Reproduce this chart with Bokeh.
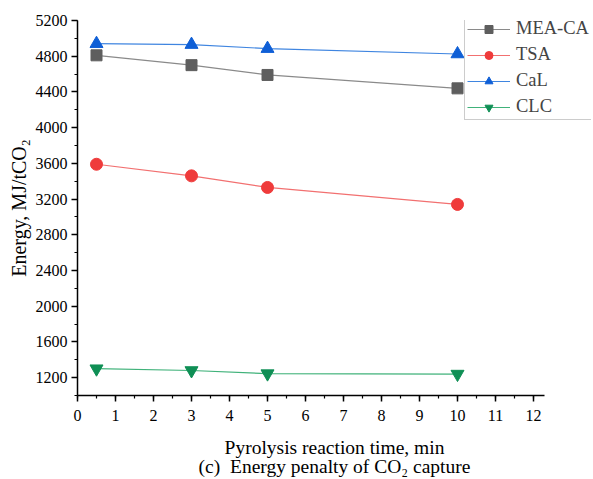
from bokeh.plotting import figure
from bokeh.models import Range1d, SingleIntervalTicker, Legend, LegendItem
from bokeh.embed import file_html
from bokeh.resources import INLINE

time_min = [0.5, 3, 5, 10]
mea_ca = [4810, 4700, 4590, 4440]
tsa = [3590, 3460, 3330, 3140]
cal = [4940, 4930, 4885, 4825]
clc = [1300, 1280, 1245, 1240]

x_label = "Pyrolysis reaction time, min"
caption = "(c)\u00a0 Energy penalty of CO\u2082 capture"
y_label = "Energy, MJ/tCO\u2082"

FONT = "Liberation Serif"
LEFT, TOP = 77, 20
FRAME_W, FRAME_H = 514, 375
PX_PER_UNIT = 38.0

p = figure(frame_width=FRAME_W, frame_height=FRAME_H, output_backend="svg", toolbar_location=None,
           x_range=Range1d(0, FRAME_W / PX_PER_UNIT), y_range=Range1d(1000, 5200),
           min_border_left=LEFT, min_border_right=0, min_border_top=TOP, min_border_bottom=0)
p.outline_line_color = None
p.grid.visible = False
p.background_fill_color = "white"
p.border_fill_color = "white"

series = [
    ("MEA-CA", mea_ca, "square", "#5e5e5e", "#8a8a8a", 11),
    ("TSA", tsa, "circle", "#ef3b3b", "#f27070", 12),
    ("CaL", cal, "triangle", "#0f5fd6", "#3f85e0", 13),
    ("CLC", clc, "inverted_triangle", "#0f8f55", "#40b27a", 13),
]
items = []
for name, ys, mk, mc, lc, sz in series:
    r1 = p.line(time_min, ys, line_color=lc, line_width=1.2)
    r2 = p.scatter(time_min, ys, marker=mk, size=sz, fill_color=mc, line_color=mc)
    items.append(LegendItem(label=name, renderers=[r1, r2]))

legend = Legend(items=items, location=(387, FRAME_H - 100), label_text_font=FONT,
                label_text_font_size="18.5px", border_line_color="#9a9a9a",
                border_line_width=1.2, glyph_width=43, glyph_height=20,
                label_height=20, spacing=5, padding=2, margin=0,
                label_standoff=6, background_fill_alpha=1)
p.add_layout(legend, "center")

for ax in (p.xaxis, p.yaxis):
    ax.axis_line_width = 1.5
    ax.axis_line_color = "black"
    ax.major_tick_line_width = 1.5
    ax.minor_tick_line_width = 1.2
    ax.major_tick_out = 6
    ax.major_tick_in = 0
    ax.minor_tick_out = 3
    ax.minor_tick_in = 0
    ax.major_label_text_font = FONT
    ax.major_label_text_font_size = "16px"
    ax.major_label_text_color = "black"
    ax.axis_label_text_font = FONT
    ax.axis_label_text_font_style = "normal"
    ax.axis_label_text_color = "black"

p.xaxis.bounds = (0, 12.3)
p.xaxis.ticker = SingleIntervalTicker(interval=1, num_minor_ticks=2)
p.yaxis.ticker = SingleIntervalTicker(interval=400, num_minor_ticks=2)
p.xaxis.axis_label = x_label + "\n" + caption
p.yaxis.axis_label = y_label
p.xaxis.axis_label_text_font_size = "19.5px"
p.yaxis.axis_label_text_font_size = "20px"
p.xaxis.axis_label_text_line_height = 0.93
p.xaxis.axis_label_standoff = 13
p.yaxis.axis_label_standoff = 3
p.xaxis.major_label_standoff = 8
p.yaxis.major_label_standoff = 4

open("out.html", "w").write(file_html(p, INLINE))
